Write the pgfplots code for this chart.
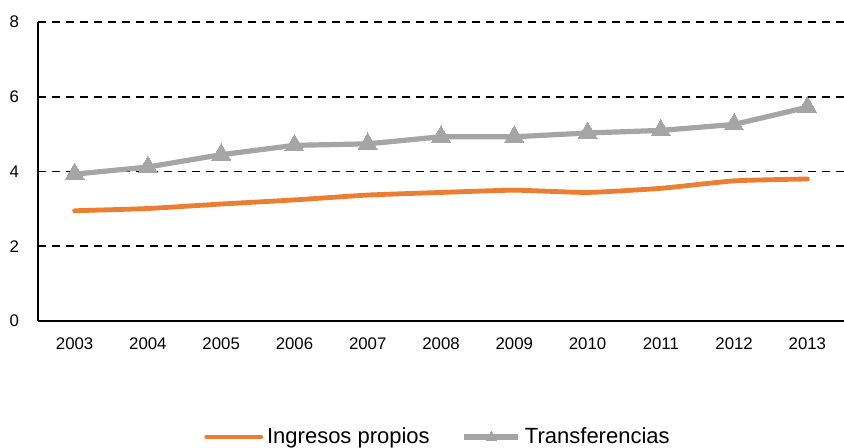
\documentclass[border=0pt]{standalone}
\usepackage{pgfplots}
\pgfplotsset{compat=1.18}
\usepackage{fontspec}
\setmainfont{Liberation Sans}
\definecolor{corange}{HTML}{ED7D31}
\definecolor{cgray}{HTML}{A5A5A5}
\begin{document}
\begin{tikzpicture}
\begin{axis}[
  scale only axis,
  width=403pt, height=149.5pt,
  xmin=-0.5, xmax=10.5,
  ymin=0, ymax=8,
  ytick={0,2,4,6,8},
  xtick={0,...,10},
  xticklabels={2003,2004,2005,2006,2007,2008,2009,2010,2011,2012,2013},
  axis x line=bottom, axis y line=left,
  axis line style={-, black, line width=0.8pt},
  major tick length=0pt,
  ymajorgrids,
  grid style={black, line width=0.9pt, dash pattern=on 4pt off 3pt},
  tick label style={font=\fontsize{8.4}{10}\selectfont},
  /pgf/number format/assume math mode=true,
  yticklabel style={xshift=-6pt},
  xticklabel style={yshift=-5pt},
  legend style={at={(0.4975,-0.388)}, anchor=center, draw=none,
    legend columns=2, font=\fontsize{11}{13}\selectfont,
    /tikz/every even column/.append style={column sep=14pt}},
  legend image code/.code={\draw[#1] (0pt,0pt) -- (27pt,0pt); \path[#1, mark repeat=1, mark size=3pt] plot coordinates {(13.5pt,0pt)};},
  clip=false,
]
\addplot[corange, line width=2.4pt, smooth, tension=0.3, line cap=round] coordinates {
(0,2.95) (1,3.01) (2,3.13) (3,3.24) (4,3.37) (5,3.44) (6,3.50) (7,3.44) (8,3.55) (9,3.75) (10,3.80)};
\addlegendentry{Ingresos propios}
\addplot[cgray, line width=2.6pt, mark=triangle*, mark size=5.5pt, mark options={fill=cgray, draw=cgray, line width=0pt}] coordinates {
(0,3.93) (1,4.12) (2,4.45) (3,4.70) (4,4.74) (5,4.93) (6,4.93) (7,5.03) (8,5.10) (9,5.26) (10,5.72)};
\addlegendentry{Transferencias}
\end{axis}
\pgfresetboundingbox
\path (-19pt,-63pt) rectangle (403pt,160.5pt);
\end{tikzpicture}
\end{document}
